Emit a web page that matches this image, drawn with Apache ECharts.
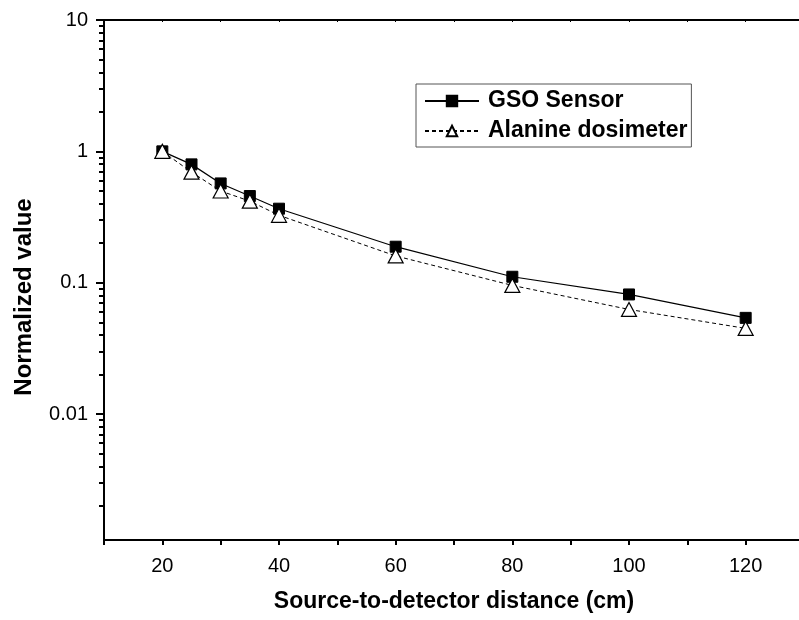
<!DOCTYPE html>
<html>
<head>
<meta charset="utf-8">
<script src="https://cdn.jsdelivr.net/npm/echarts@6/dist/echarts.min.js"></script>
<style>
html,body{margin:0;padding:0;background:#fff;}
#chart{width:799px;height:620px;}
</style>
</head>
<body>
<div id="chart"></div>
<script>
// ---- data ----
var distances = [20, 25, 30, 35, 40, 60, 80, 100, 120];
var gsoValues = [1.0, 0.796, 0.570, 0.457, 0.366, 0.188, 0.111, 0.0814, 0.054];
var alanineValues = [1.0, 0.695, 0.499, 0.418, 0.326, 0.160, 0.0954, 0.0626, 0.0449];
var xTickLabels = [20, 40, 60, 80, 100, 120];
var xTickMarks = [10, 20, 30, 40, 50, 60, 70, 80, 90, 100, 110, 120, 130];
var yTickValues = [0.01, 0.1, 1, 10];
var yTickLabels = ['0.01', '0.1', '1', '10'];
var seriesNames = ['GSO Sensor', 'Alanine dosimeter'];

var Y_MIN = 0.0011, Y_MAX = 10;
var X_MIN = 10, X_MAX = 130;

var yMinor = [];
for (var e = -3; e <= 0; e++) {
  for (var m = 2; m <= 9; m++) {
    var v = m * Math.pow(10, e);
    if (v >= Y_MIN && v <= Y_MAX) yMinor.push(v);
  }
}

function pairs(xs, ys) { return xs.map(function (x, i) { return [x, ys[i]]; }); }

var FONT = '"Liberation Sans", Arial, sans-serif';

var chart = echarts.init(document.getElementById('chart'), null, {renderer: 'canvas'});
chart.setOption({
  backgroundColor: '#fff',
  animation: false,
  grid: {left: 104, top: 20, width: 700, height: 520, containLabel: false, outerBoundsMode: 'none'},
  legend: {
    left: 416, top: 84,
    orient: 'vertical',
    data: seriesNames,
    itemWidth: 54, itemHeight: 13, itemGap: 6,
    padding: [5, 4, 4, 8],
    borderColor: '#555', borderWidth: 1,
    textStyle: {fontFamily: FONT, fontWeight: 'bold', fontSize: 23, color: '#000', lineHeight: 24, padding: [0,0,0,4]}
  },
  xAxis: [{
    type: 'value', min: X_MIN, max: X_MAX, position: 'bottom',
    name: 'Source-to-detector distance (cm)', nameLocation: 'middle', nameGap: 50,
    nameTextStyle: {fontFamily: FONT, fontWeight: 'bold', fontSize: 23, color: '#000'},
    axisLine: {show: true, onZero: false, lineStyle: {color: '#000', width: 2}},
    axisTick: {show: true, customValues: xTickMarks, length: 5, lineStyle: {color: '#000', width: 2}},
    axisLabel: {customValues: xTickLabels, margin: 16, fontFamily: FONT, fontSize: 20, color: '#000'},
    splitLine: {show: false}
  }, {
    type: 'value', min: X_MIN, max: X_MAX, position: 'top',
    axisLine: {show: true, onZero: false, lineStyle: {color: '#000', width: 2}},
    axisTick: {show: true, inside: true, customValues: xTickMarks, length: 2, lineStyle: {color: '#000', width: 1}},
    axisLabel: {show: false},
    splitLine: {show: false}
  }],
  yAxis: [{
    type: 'log', logBase: 10, min: Y_MIN, max: Y_MAX, position: 'left',
    name: 'Normalized value', nameLocation: 'middle', nameGap: 68, nameRotate: 90,
    nameTextStyle: {fontFamily: FONT, fontWeight: 'bold', fontSize: 24, color: '#000', padding: [0, 34, 0, 0]},
    axisLine: {show: true, onZero: false, lineStyle: {color: '#000', width: 2}},
    axisTick: {show: true, customValues: yTickValues, length: 8, lineStyle: {color: '#000', width: 2}},
    axisLabel: {
      customValues: yTickValues, margin: 16, fontFamily: FONT, fontSize: 20, color: '#000',
      formatter: function (val) {
        for (var i = 0; i < yTickValues.length; i++) {
          if (Math.abs(val - yTickValues[i]) / yTickValues[i] < 1e-6) return yTickLabels[i];
        }
        return '';
      }
    },
    splitLine: {show: false}
  }, {
    type: 'log', logBase: 10, min: Y_MIN, max: Y_MAX, position: 'left', offset: 0,
    axisLine: {show: false},
    axisTick: {show: true, customValues: yMinor, length: 5, lineStyle: {color: '#000', width: 2}},
    axisLabel: {show: false},
    splitLine: {show: false}
  }],
  series: [{
    name: seriesNames[0], type: 'line', xAxisIndex: 0, yAxisIndex: 0,
    data: pairs(distances, gsoValues),
    symbol: 'rect', symbolSize: 11,
    itemStyle: {color: '#000', borderColor: '#000', borderWidth: 1},
    lineStyle: {color: '#000', width: 1.2, type: 'solid'},
    z: 2
  }, {
    name: seriesNames[1], type: 'line', xAxisIndex: 0, yAxisIndex: 0,
    data: pairs(distances, alanineValues),
    symbol: 'triangle', symbolSize: [15, 14],
    itemStyle: {color: '#fff', borderColor: '#000', borderWidth: 1.2},
    lineStyle: {color: '#000', width: 1, type: [4, 3]},
    z: 3
  }]
});
</script>
</body>
</html>
